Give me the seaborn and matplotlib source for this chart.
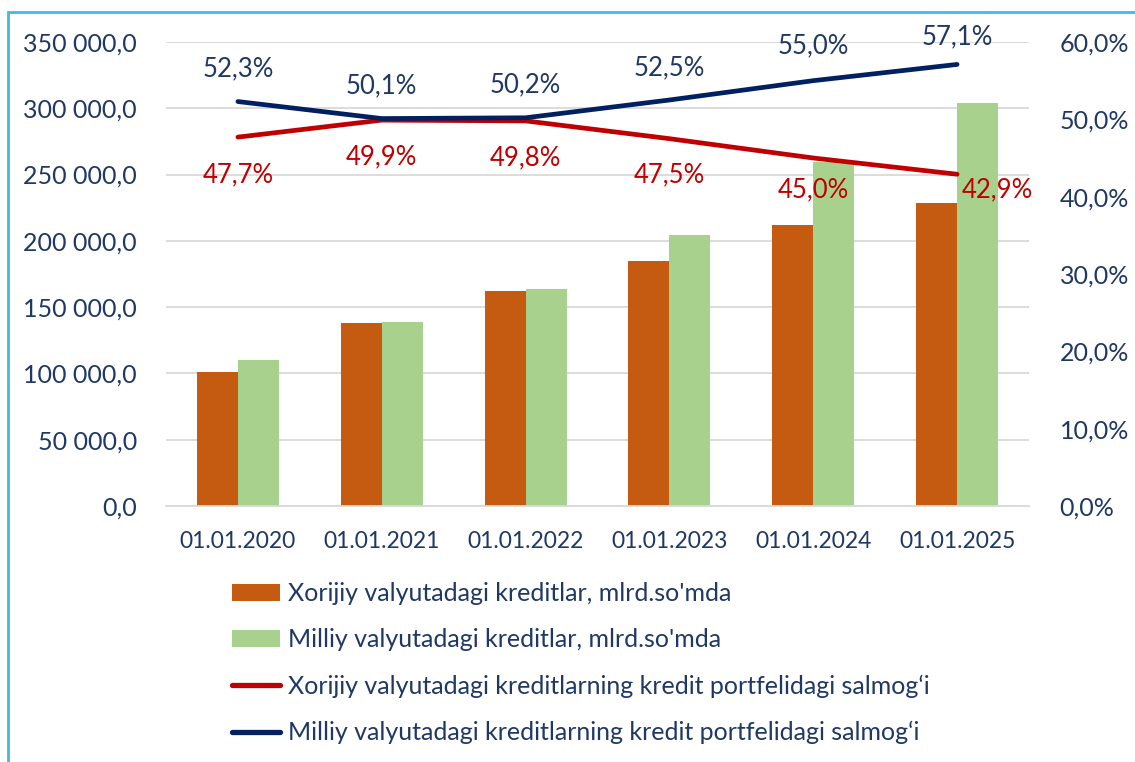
import matplotlib
matplotlib.use("Agg")
import matplotlib.pyplot as plt
import seaborn as sns
import pandas as pd
import numpy as np
from matplotlib.ticker import FuncFormatter, MultipleLocator, FixedLocator
from matplotlib.patches import Rectangle, Patch
from matplotlib.lines import Line2D

# ---------------- data ----------------
categories = ["01.01.2020", "01.01.2021", "01.01.2022", "01.01.2023", "01.01.2024", "01.01.2025"]
foreign_credits = [100850, 138000, 162400, 185000, 211700, 228800]
national_credits = [110400, 138600, 163400, 204700, 259200, 303700]
foreign_share = [47.7, 49.9, 49.8, 47.5, 45.0, 42.9]
national_share = [52.3, 50.1, 50.2, 52.5, 55.0, 57.1]
series_names = [
    "Xorijiy valyutadagi kreditlar, mlrd.so'mda",
    "Milliy valyutadagi kreditlar, mlrd.so'mda",
    "Xorijiy valyutadagi kreditlarning kredit portfelidagi salmog\u2018i",
    "Milliy valyutadagi kreditlarning kredit portfelidagi salmog\u2018i",
]

# ---------------- style ----------------
ORANGE = "#C55A11"
GREEN = "#A9D18E"
RED = "#C00000"
NAVY = "#002060"
TEXT = "#1F3864"
GRID = "#D9D9D9"
FS = 18

sns.set_theme(style="white")
plt.rcParams['font.family'] = ['Lato', 'DejaVu Sans']

fig = plt.figure(figsize=(11.35, 7.62), dpi=100)
ax = fig.add_axes([166 / 1135, 1 - 506 / 762, (1029 - 166) / 1135, (506 - 42) / 762])

df = pd.DataFrame({
    "date": categories * 2,
    "value": foreign_credits + national_credits,
    "series": [series_names[0]] * len(categories) + [series_names[1]] * len(categories),
})
sns.barplot(data=df, x="date", y="value", hue="series", hue_order=series_names[:2],
            palette=[ORANGE, GREEN], width=0.57, gap=0, saturation=1,
            legend=False, ax=ax, linewidth=0)

ax.set_xlim(-0.5, len(categories) - 0.5)
ax.set_ylim(0, 350000)
ax.yaxis.set_major_locator(MultipleLocator(50000))
ax.yaxis.set_major_formatter(FuncFormatter(lambda v, p: f"{v:,.1f}".replace(",", " ").replace(".", ",")))
ax.yaxis.grid(True, color=GRID, lw=1.3)
ax.set_axisbelow(True)
for s in ["top", "right", "left"]:
    ax.spines[s].set_visible(False)
ax.spines["bottom"].set_color(GRID)
ax.spines["bottom"].set_linewidth(1.3)
ax.set_xlabel("")
ax.set_ylabel("")
ax.tick_params(axis="y", length=0, pad=21, labelsize=FS, labelcolor=TEXT)
ax.tick_params(axis="x", which="major", length=0, pad=18, labelsize=16.5, labelcolor=TEXT)
ax.xaxis.set_minor_locator(FixedLocator(np.arange(-0.5, len(categories), 1.0)))
ax.tick_params(axis="x", which="minor", length=7, width=1.3, color=GRID, direction="out")

# ---------------- lines ----------------
ax2 = ax.twinx()
sns.lineplot(x=categories, y=foreign_share, ax=ax2, color=RED, lw=3.4, sort=False)
sns.lineplot(x=categories, y=national_share, ax=ax2, color=NAVY, lw=3.4, sort=False)
ax2.set_ylim(0, 60)
ax2.yaxis.set_major_locator(MultipleLocator(10))
ax2.yaxis.set_major_formatter(FuncFormatter(lambda v, p: f"{v:.1f}%".replace(".", ",")))
ax2.tick_params(axis="y", length=0, pad=22, labelsize=FS, labelcolor=TEXT)
for s in ["top", "right", "left", "bottom"]:
    ax2.spines[s].set_visible(False)
ax2.set_ylabel("")
ax2.grid(False)

red_offsets = [(0, -38), (0, -37), (0, -37), (0, -36), (0, -32), (40, -16)]
blue_offsets = [(0, 33), (0, 33), (0, 33), (0, 32), (0, 35), (0, 28)]
for i, c in enumerate(categories):
    ax2.annotate(f"{foreign_share[i]:.1f}%".replace(".", ","), (i, foreign_share[i]),
                 xytext=red_offsets[i], textcoords="offset pixels",
                 ha="center", va="center", color=RED, fontsize=18.5)
    ax2.annotate(f"{national_share[i]:.1f}%".replace(".", ","), (i, national_share[i]),
                 xytext=blue_offsets[i], textcoords="offset pixels",
                 ha="center", va="center", color=TEXT, fontsize=18.5)

# ---------------- legend ----------------
handles = [
    Patch(facecolor=ORANGE, edgecolor="none"),
    Patch(facecolor=GREEN, edgecolor="none"),
    Line2D([], [], color=RED, lw=3.8),
    Line2D([], [], color=NAVY, lw=3.8),
]
fig.legend(handles, series_names, loc="upper left", bbox_to_anchor=(232 / 1135, 1 - 582 / 762),
           frameon=False, fontsize=FS, handlelength=1.9, handletextpad=0.32,
           labelspacing=0.93, borderaxespad=0, borderpad=0, labelcolor=TEXT)

# ---------------- frame border ----------------
fig.add_artist(Rectangle((8 / 1135, -0.1), 1.2, 1.1 - 12 / 762, transform=fig.transFigure,
                         fill=False, edgecolor="#45B8E8", lw=2, clip_on=False))

fig.savefig("out.png", dpi=100)
